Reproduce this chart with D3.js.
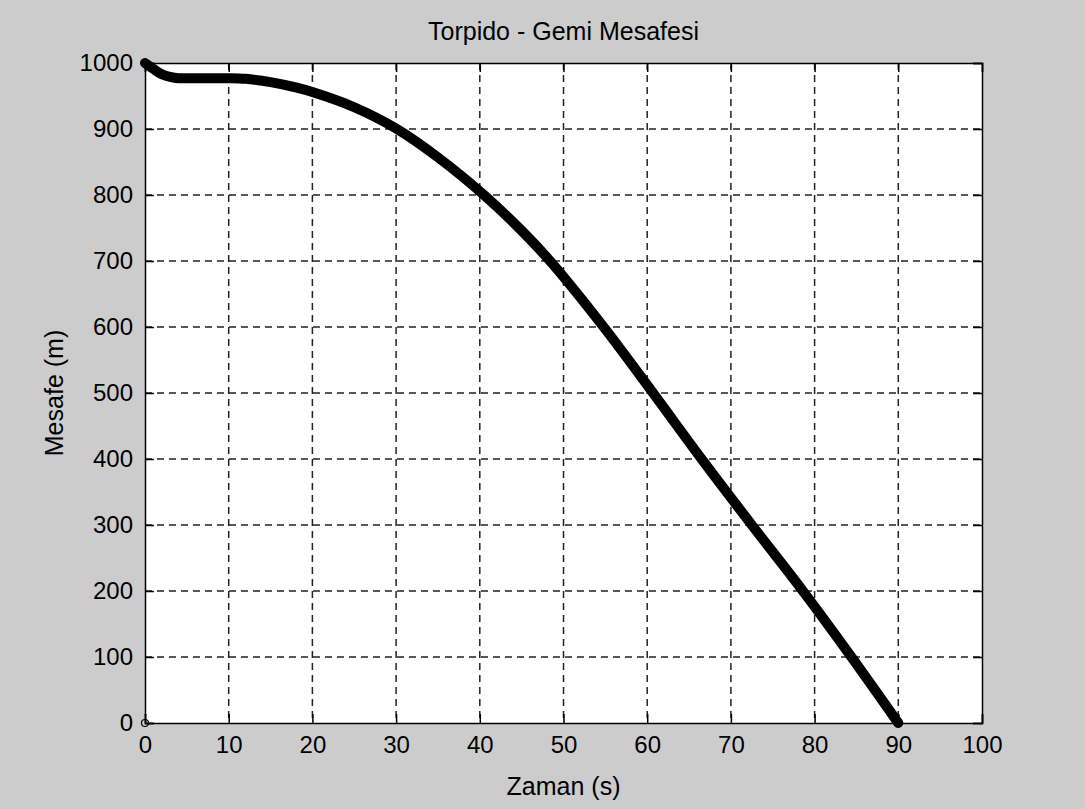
<!DOCTYPE html>
<html>
<head>
<meta charset="utf-8">
<script src="https://cdn.jsdelivr.net/npm/d3@7"></script>
<style>
  body { margin: 0; background: #cccccc; }
  text { font-family: Arial, "Liberation Sans", sans-serif; fill: #000; }
</style>
</head>
<body>
<div id="canvas"></div>
<script>
// torpedo - ship distance over time
var times     = [0, 1, 2, 3, 4, 6, 8, 10, 12, 15, 18, 20, 25, 30.1, 35, 40.5, 45, 48.6, 54.8, 60.7, 66.5, 72.5, 78.6, 84.4, 90]
var distances = [1000, 991, 983, 979, 977, 977, 977, 977, 976, 971, 963, 956, 933, 900, 857, 800, 746, 697, 600, 500, 400, 300, 200, 100, 0]
var originPoint = [0, 0]

var xTicks = [0, 10, 20, 30, 40, 50, 60, 70, 80, 90, 100]
var yTicks = [0, 100, 200, 300, 400, 500, 600, 700, 800, 900, 1000]

var width = 1085
var height = 809
var plotLeft = 145, plotRight = 982, plotTop = 63, plotBottom = 723

var svg = d3.select("#canvas")
    .append("svg")
    .attr("width", width)
    .attr("height", height)

svg.append("rect")
    .attr("width", width)
    .attr("height", height)
    .attr("fill", "#cccccc")

var xScale = d3.scaleLinear().domain([0, 100]).range([plotLeft, plotRight])
var yScale = d3.scaleLinear().domain([0, 1000]).range([plotBottom, plotTop])

// axes background
svg.append("rect")
    .attr("x", plotLeft)
    .attr("y", plotTop)
    .attr("width", plotRight - plotLeft)
    .attr("height", plotBottom - plotTop)
    .attr("fill", "#fff")

// grid
svg.append("g")
    .selectAll("line")
    .data(xTicks.slice(1, -1))
    .enter()
    .append("line")
    .attr("x1", function (d) { return xScale(d) })
    .attr("x2", function (d) { return xScale(d) })
    .attr("y1", plotTop)
    .attr("y2", plotBottom)
    .attr("stroke", "#222")
    .attr("stroke-width", 1.5)
    .attr("stroke-dasharray", "7,5")

svg.append("g")
    .selectAll("line")
    .data(yTicks.slice(1, -1))
    .enter()
    .append("line")
    .attr("y1", function (d) { return yScale(d) })
    .attr("y2", function (d) { return yScale(d) })
    .attr("x1", plotLeft)
    .attr("x2", plotRight)
    .attr("stroke", "#222")
    .attr("stroke-width", 1.5)
    .attr("stroke-dasharray", "7,5")

// axes with inward ticks (box on)
var tickLen = 9
svg.append("g")
    .attr("transform", "translate(0," + plotBottom + ")")
    .call(d3.axisBottom(xScale).tickValues(xTicks).tickSize(-tickLen).tickPadding(13))
svg.append("g")
    .attr("transform", "translate(" + plotLeft + ",0)")
    .call(d3.axisLeft(yScale).tickValues(yTicks).tickSize(-tickLen).tickPadding(12).tickFormat(d3.format("d")))
svg.append("g")
    .attr("transform", "translate(0," + plotTop + ")")
    .call(d3.axisTop(xScale).tickValues(xTicks).tickSize(-tickLen).tickFormat(""))
svg.append("g")
    .attr("transform", "translate(" + plotRight + ",0)")
    .call(d3.axisRight(yScale).tickValues(yTicks).tickSize(-tickLen).tickFormat(""))

svg.selectAll(".domain").attr("stroke", "#000").attr("stroke-width", 1.5)
svg.selectAll(".tick line").attr("stroke", "#000").attr("stroke-width", 1.5)
svg.selectAll(".tick text")
    .style("font-family", "Arial, 'Liberation Sans', sans-serif")
    .style("font-size", "24px")
    .attr("fill", "#000")

// curve (dense circle markers look like a thick line)
var line = d3.line()
    .x(function (d, i) { return xScale(times[i]) })
    .y(function (d) { return yScale(d) })
    .curve(d3.curveCatmullRom)

svg.append("path")
    .datum(distances)
    .attr("d", line)
    .attr("fill", "none")
    .attr("stroke", "#000")
    .attr("stroke-width", 10)
    .attr("stroke-linecap", "round")
    .attr("stroke-linejoin", "round")

svg.append("circle")
    .attr("cx", xScale(originPoint[0]))
    .attr("cy", yScale(originPoint[1]))
    .attr("r", 3.5)
    .attr("fill", "none")
    .attr("stroke", "#000")
    .attr("stroke-width", 1.2)

// labels
svg.append("text")
    .attr("x", (plotLeft + plotRight) / 2)
    .attr("y", 40)
    .attr("text-anchor", "middle")
    .style("font-size", "25px")
    .text("Torpido - Gemi Mesafesi")

svg.append("text")
    .attr("x", (plotLeft + plotRight) / 2)
    .attr("y", 795)
    .attr("text-anchor", "middle")
    .style("font-size", "25px")
    .text("Zaman (s)")

svg.append("text")
    .attr("transform", "translate(63," + (plotTop + plotBottom) / 2 + ") rotate(-90)")
    .attr("text-anchor", "middle")
    .style("font-size", "25px")
    .text("Mesafe (m)")
</script>
</body>
</html>
